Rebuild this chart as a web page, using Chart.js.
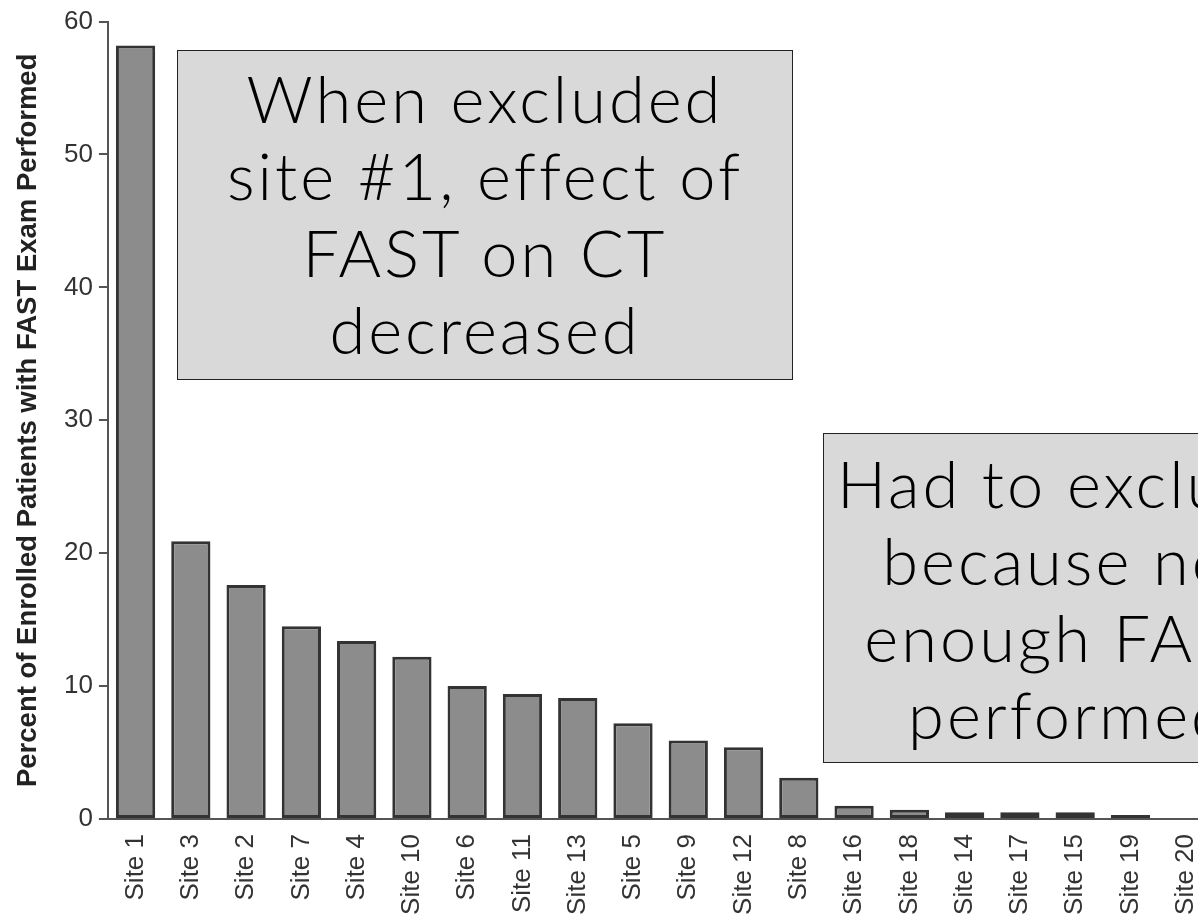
<!DOCTYPE html>
<html>
<head>
<meta charset="utf-8">
<script src="https://cdn.jsdelivr.net/npm/chart.js@4"></script>
<style>
  html, body { margin: 0; padding: 0; background: #fff; overflow: hidden; }
  #wrap { position: absolute; left: 0; top: 0; width: 1232px; height: 922px; }
  .note {
    position: absolute;
    height: 330px;
    background: #d9d9d9;
    border: 1.5px solid #222;
    box-sizing: border-box;
    text-align: center;
    color: #000;
    font-family: Lato, "DejaVu Sans", sans-serif;
    font-weight: 300;
    font-size: 65px;
    line-height: 77px;
    letter-spacing: 3px;
    padding-top: 9px;
    overflow: hidden;
  }
  #note1 { left: 177px; top: 50px; width: 616px; }
  #note2 { left: 823px; top: 433px; width: 492px; padding-top: 11px; }
</style>
</head>
<body>
<div id="wrap"><canvas id="fastChart"></canvas></div>
<div class="note" id="note1">When excluded<br>site #1, effect of<br>FAST on CT<br>decreased</div>
<div class="note" id="note2">Had to exclude<br>because not<br>enough FAST<br>performed</div>
<script>
// данные
const sites = ['Site 1', 'Site 3', 'Site 2', 'Site 7', 'Site 4', 'Site 10', 'Site 6', 'Site 11', 'Site 13', 'Site 5',
  'Site 9', 'Site 12', 'Site 8', 'Site 16', 'Site 18', 'Site 14', 'Site 17', 'Site 15', 'Site 19', 'Site 20'];
const percentFast = [58.2, 20.9, 17.6, 14.5, 13.4, 12.2, 10.0, 9.4, 9.1, 7.2,
  5.9, 5.4, 3.1, 1.0, 0.7, 0.5, 0.5, 0.5, 0.3, 0];
const yMin = 0;
const yMax = 60;
const yStep = 10;
const yTitle = 'Percent of Enrolled Patients with FAST Exam Performed';

const tickFont = { family: '"Liberation Sans", Arial, sans-serif', size: 26 };

let ctx = document.querySelector('#fastChart').getContext('2d');

let chart = new Chart(ctx, {
  type: 'bar',
  data: {
    labels: sites,
    datasets: [{
      data: percentFast,
      backgroundColor: '#8c8c8c',
      borderColor: '#333333',
      borderWidth: 3,
      borderSkipped: false,
      categoryPercentage: 1,
      barPercentage: 0.71,
    }]
  },
  options: {
    responsive: true,
    maintainAspectRatio: false,
    animation: false,
    layout: { padding: { top: 15, right: 3, left: 12, bottom: 0 } },
    plugins: {
      legend: { display: false },
      tooltip: { enabled: false },
    },
    scales: {
      x: {
        grid: { display: false, drawTicks: false },
        border: { display: true, color: '#555', width: 2 },
        ticks: {
          minRotation: 90,
          maxRotation: 90,
          autoSkip: false,
          padding: 15,
          color: '#333',
          font: tickFont,
        },
        // высота зоны подписей, чтобы ось была на месте
        afterFit(scale) { scale.height = 103; },
      },
      y: {
        min: yMin,
        max: yMax,
        grid: { drawOnChartArea: false, drawTicks: true, tickLength: 9, color: '#555', lineWidth: 2 },
        border: { display: true, color: '#555', width: 2 },
        ticks: {
          stepSize: yStep,
          padding: 6,
          color: '#333',
          font: tickFont,
        },
        title: {
          display: true,
          text: yTitle,
          color: '#222',
          font: { family: '"Liberation Sans", Arial, sans-serif', size: 27.5, weight: 'bold' },
          padding: { top: 0, bottom: 13 },
        },
      },
    },
  },
});
</script>
</body>
</html>
